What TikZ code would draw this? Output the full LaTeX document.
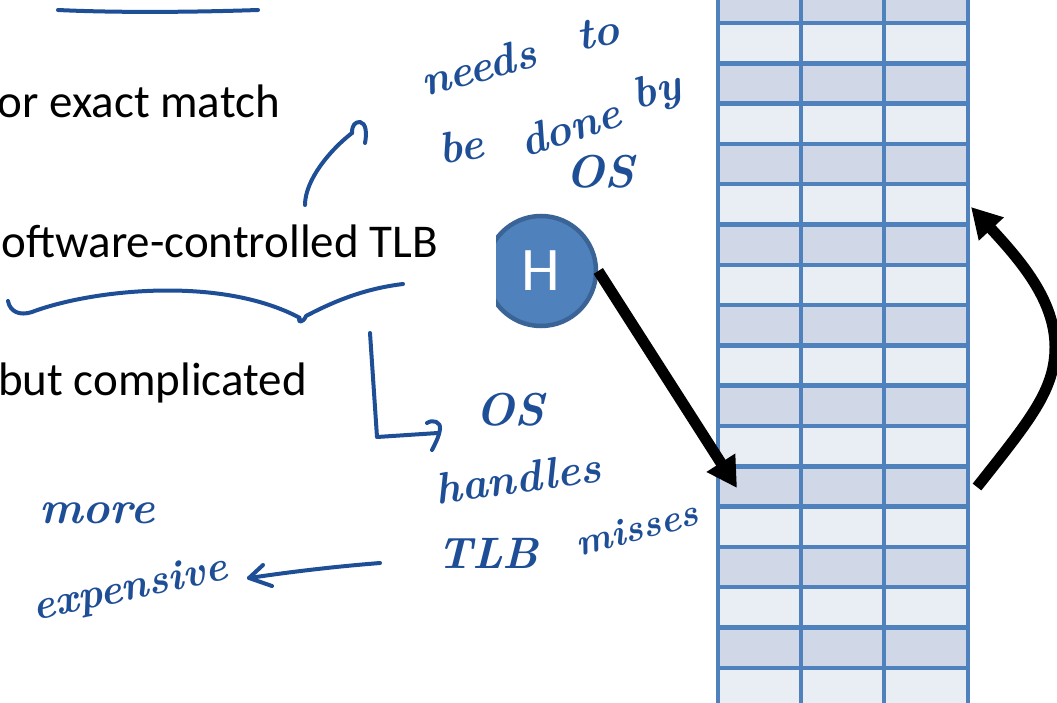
\documentclass[tikz,border=0pt]{standalone}
\usepackage{fontspec}
\setmainfont{Carlito}
\newfontfamily\hwfont{Latin Modern Roman}
\usetikzlibrary{arrows.meta}
\definecolor{hwblue}{HTML}{1E4E96}
\definecolor{tblline}{HTML}{4F81BD}
\definecolor{darkcell}{HTML}{D0D8E8}
\definecolor{lightcell}{HTML}{E9EDF4}
\definecolor{hfill}{HTML}{4F81BD}
\definecolor{hborder}{HTML}{3A6496}
\tikzset{
  hwline/.style={draw=hwblue, line width=4pt, line cap=round, line join=round},
  hw/.style={text=hwblue, inner sep=0pt, font=\hwfont\bfseries\itshape\fontsize{44}{44}\selectfont},
  slide/.style={inner sep=0pt, anchor=base east, font=\fontsize{47}{47}\selectfont},
  hcirc/.style={circle, fill=hfill, draw=hborder, line width=4.5pt, minimum size=110pt, inner sep=0pt, text=white, font=\fontsize{62}{62}\selectfont},
  bigarrow/.style={draw=black, line width=11pt, -{Triangle[length=30pt,width=32pt]}},
  gridline/.style={draw=tblline, line width=4.5pt}
}
\begin{document}
\begin{tikzpicture}[x=1pt,y=-1pt]
\useasboundingbox (0,0) rectangle (1057,703);
% table
\foreach \k in {0,...,18}{
  \pgfmathsetmacro\ya{-17.3+40.3*\k}
  \pgfmathsetmacro\yb{\ya+40.3}
  \ifodd\k \def\fc{lightcell}\else\def\fc{darkcell}\fi
  \fill[\fc] (718,\ya) rectangle (968,\yb);
  \draw[gridline] (718,\ya) -- (968,\ya);
}
\foreach \xx in {718,801,884,968}{
  \draw[gridline] (\xx,-5) -- (\xx,710);
}
\coordinate (t1) at (737,488);
\coordinate (c1) at (977,487);
\coordinate (c2) at (971,207);
% slide text
\node[slide] (l1) at (280,118) {or exact match};
\node[slide] (l2) at (438,258) {oftware-controlled TLB};
\node[slide] (l3) at (307,395) {but complicated};
% H circle
\begin{scope}
  \clip (496,200) rectangle (640,345);
  \node[hcirc] (H) at (541,271) {H};
\end{scope}
\draw[bigarrow] (H.east) -- (t1);
\draw[bigarrow] (c1) .. controls (1030,420) and (1055,390) .. (1055,347) .. controls (1055,300) and (1020,260) .. (c2);
% handwriting strokes
\draw[hwline] (58,10) .. controls (120,13) and (200,12) .. (258,10);
\draw[hwline] (305,205) .. controls (305,180) and (330,150) .. (352,133);
\draw[hwline] (352,133) .. controls (352,125) and (355,122) .. (360,122) .. controls (366,123) and (367,133) .. (365,143);
\draw[hwline] (8,301) .. controls (10,312) and (20,316) .. (32,312) .. controls (90,290) and (220,275) .. (300,318) .. controls (296,322) and (303,324) .. (306,316) .. controls (340,298) and (370,288) .. (403,284);
\draw[hwline] (370,333) -- (377,437) -- (438,433);
\draw[hwline] (427,423) .. controls (433,419) and (441,422) .. (440,429) .. controls (439,437) and (435,444) .. (432,450);
\draw[hwline] (380,563) .. controls (330,567) and (290,572) .. (249,578);
\draw[hwline] (263,565) -- (249,578) -- (272,586);
% handwriting words
\node[hw, rotate=15] (needs) at (478,67) {needs};
\node[hw, rotate=10] (to) at (598,33) {to};
\node[hw, rotate=10] (be) at (461,146) {be};
\node[hw, rotate=18] (done) at (570,127) {done};
\node[hw, rotate=15] (by) at (657,93) {by};
\node[hw, font=\hwfont\bfseries\itshape\fontsize{46}{46}\selectfont] (os1) at (600,172) {OS};
\node[hw, font=\hwfont\bfseries\itshape\fontsize{46}{46}\selectfont] (os2) at (510,410) {OS};
\node[hw, rotate=8] (handles) at (518,478) {handles};
\node[hw] (tlb) at (488,553) {TLB};
\node[hw, rotate=15, font=\hwfont\bfseries\itshape\fontsize{38}{38}\selectfont] (misses) at (637,528) {misses};
\node[hw, font=\hwfont\bfseries\itshape\fontsize{46}{46}\selectfont] (more) at (97,513) {more};
\node[hw, rotate=12, font=\hwfont\bfseries\itshape\fontsize{42}{42}\selectfont] (expensive) at (130,590) {expensive};
\end{tikzpicture}
\end{document}
